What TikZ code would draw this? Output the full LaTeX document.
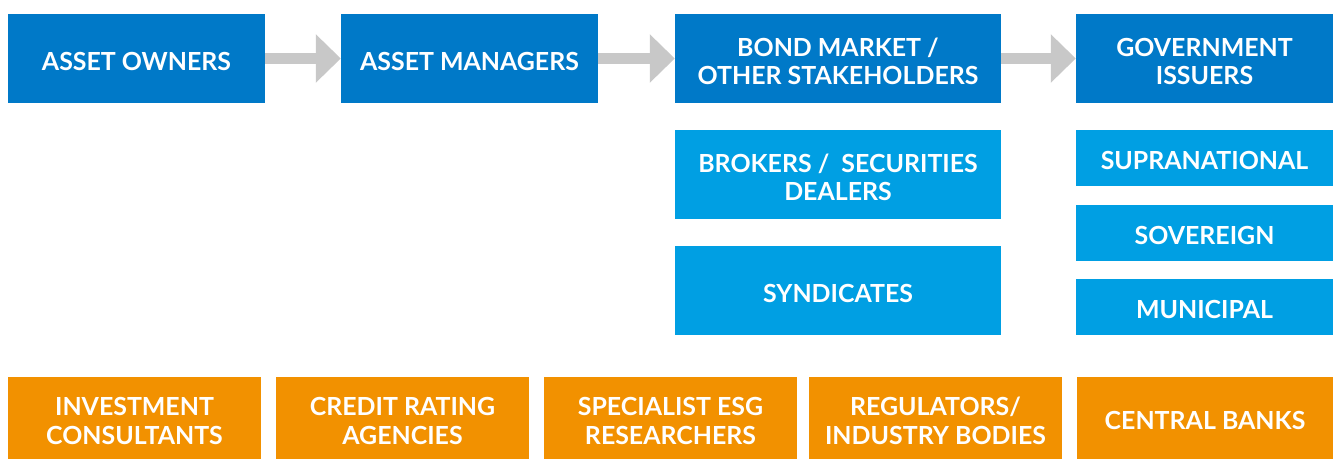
\documentclass[tikz,border=0pt]{standalone}
\usepackage{fontspec}
\setmainfont{Lato}
\usetikzlibrary{arrows.meta}
\definecolor{dblue}{HTML}{0079C8}
\definecolor{lblue}{HTML}{009FE3}
\definecolor{orng}{HTML}{F29100}
\definecolor{agray}{HTML}{C8C8C8}
\newcommand{\capraise}{\rule{0pt}{24bp}}
\tikzset{
  box/.style={rectangle, inner sep=0pt, text=white, align=center,
    font=\fontsize{25}{28.5}\selectfont\bfseries},
  darkbox/.style={box, fill=dblue},
  lightbox/.style={box, fill=lblue},
  orangebox/.style={box, fill=orng},
  flowarrow/.style={agray, line width=11bp, -{Triangle[length=25bp,width=47bp]}}
}
\begin{document}
\begin{tikzpicture}[x=1bp,y=-1bp]
\useasboundingbox (0,0) rectangle (1333,459);
% top row
\node[darkbox, minimum width=257bp, minimum height=89bp] (owners) at (136.5,58.5) {\capraise ASSET OWNERS};
\node[darkbox, minimum width=257bp, minimum height=89bp] (managers) at (469.5,58.5) {\capraise ASSET MANAGERS};
\node[darkbox, minimum width=326bp, minimum height=89bp] (bond) at (838,58.5) {\capraise BOND MARKET /\\OTHER STAKEHOLDERS};
\node[darkbox, minimum width=257bp, minimum height=89bp] (gov) at (1204.5,58.5) {\capraise GOVERNMENT\\ISSUERS};
% arrows
\draw[flowarrow] (owners.east) -- (managers.west);
\draw[flowarrow] (managers.east) -- (bond.west);
\draw[flowarrow] (bond.east) -- (gov.west);
% bond market sub boxes
\node[lightbox, minimum width=326bp, minimum height=89bp] (brokers) at (838,174.5) {\capraise BROKERS /\ \ SECURITIES\\DEALERS};
\node[lightbox, minimum width=326bp, minimum height=89bp] (synd) at (838,290.5) {\capraise SYNDICATES};
% government sub boxes
\node[lightbox, minimum width=257bp, minimum height=56bp] (supra) at (1204.5,158) {\capraise SUPRANATIONAL};
\node[lightbox, minimum width=257bp, minimum height=56bp] (sov) at (1204.5,233) {\capraise SOVEREIGN};
\node[lightbox, minimum width=257bp, minimum height=56bp] (muni) at (1204.5,307) {\capraise MUNICIPAL};
% bottom row
\node[orangebox, minimum width=253bp, minimum height=82bp] (consult) at (134.5,418) {\capraise INVESTMENT\\CONSULTANTS};
\node[orangebox, minimum width=253bp, minimum height=82bp] (credit) at (402.5,418) {\capraise CREDIT RATING\\AGENCIES};
\node[orangebox, minimum width=253bp, minimum height=82bp] (esg) at (670.5,418) {\capraise SPECIALIST ESG\\RESEARCHERS};
\node[orangebox, minimum width=253bp, minimum height=82bp] (reg) at (935.5,418) {\capraise REGULATORS/\\INDUSTRY BODIES};
\node[orangebox, minimum width=256bp, minimum height=82bp] (central) at (1205,418) {\capraise CENTRAL BANKS};
\end{tikzpicture}
\end{document}
